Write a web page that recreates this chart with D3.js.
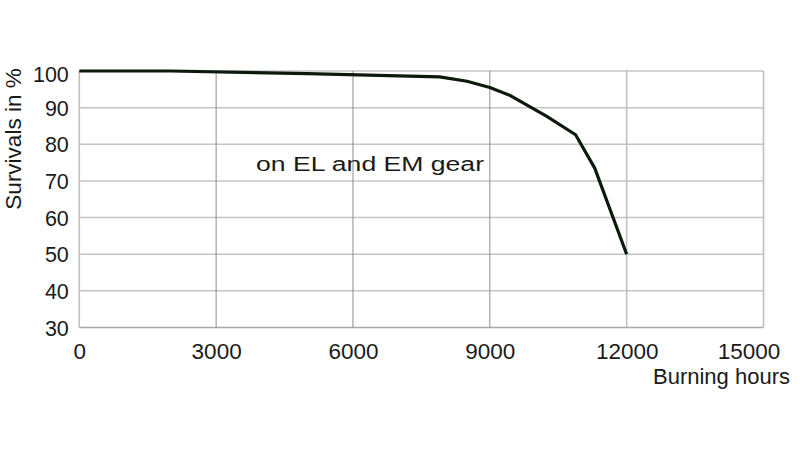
<!DOCTYPE html>
<html><head><meta charset="utf-8">
<script src="https://cdn.jsdelivr.net/npm/d3@7"></script>
<style>body{margin:0;background:#fff}svg{display:block}text{font-family:"Liberation Sans",Arial,sans-serif;fill:#1a1a1a}</style>
</head><body>
<svg id="c" width="800" height="453"></svg>
<script>
const hours = [0, 2000, 5000, 7900, 8500, 9000, 9450, 10250, 10880, 11300, 12000];
const survival = [100, 100, 99.3, 98.4, 97.2, 95.5, 93.3, 87.6, 82.6, 73.5, 50];
const xTicks = [0, 3000, 6000, 9000, 12000, 15000];
const yTicks = [30, 40, 50, 60, 70, 80, 90, 100];
const xTitle = "Burning hours";
const yTitle = "Survivals in %";
const note = "on EL and EM gear";

const svg = d3.select("#c");
const x = d3.scaleLinear().domain([0, 15000]).range([79.3, 763.5]);
const y = d3.scaleLinear().domain([30, 100]).range([327.5, 71]);

// horizontal gridlines
svg.append("g").selectAll("line").data(yTicks).join("line")
  .attr("x1", x(0)).attr("x2", x(15000))
  .attr("y1", d => y(d)).attr("y2", d => y(d))
  .attr("stroke", d => d === 30 ? "#a8a8a8" : "#c4c4c4").attr("stroke-width", 1.5);
// vertical gridlines
svg.append("g").selectAll("line").data(xTicks).join("line")
  .attr("x1", d => x(d)).attr("x2", d => x(d))
  .attr("y1", y(100)).attr("y2", y(30))
  .attr("stroke", d => (d === 12000 || d === 15000 || d === 0) ? "#c0c0c0" : "#8c8c8c")
  .attr("stroke-width", d => (d === 12000 || d === 15000 || d === 0) ? 1.6 : 1);

// axes labels via d3 axes
const ya = svg.append("g").attr("transform", `translate(${x(0)},0)`)
  .call(d3.axisLeft(y).tickValues(yTicks).tickSize(0).tickPadding(10.5));
ya.select(".domain").remove();
ya.selectAll("text").style("font-size", "21.5px").attr("fill", "#1a1a1a")
  .attr("dy", d => d === 100 ? "0.5em" : "0.35em");
const xa = svg.append("g").attr("transform", `translate(0,${y(30)})`)
  .call(d3.axisBottom(x).tickValues(xTicks).tickSize(0).tickPadding(15.5).tickFormat(d3.format("d")));
xa.select(".domain").remove();
xa.selectAll("text").style("font-size", "22.5px").attr("fill", "#1a1a1a")
  .attr("dx", d => d === 15000 ? -15 : 0);

// line
const line = d3.line().x((d, i) => x(hours[i])).y(d => y(d));
svg.append("path").datum(survival)
  .attr("d", line).attr("fill", "none")
  .attr("stroke", "#0c1a0c").attr("stroke-width", 3.2)
  .attr("stroke-linejoin", "round");

// titles
svg.append("text").attr("x", 790).attr("y", 383.5).attr("text-anchor", "end")
  .style("font-size", "22px").text(xTitle);
svg.append("text").attr("transform", "translate(20.5,139) rotate(-90)")
  .attr("text-anchor", "middle").style("font-size", "22.5px").text(yTitle);
svg.append("text").attr("x", 256).attr("y", 170.5)
  .style("font-size", "19.5px").attr("textLength", 228).attr("lengthAdjust", "spacingAndGlyphs").text(note);
</script>
</body></html>
